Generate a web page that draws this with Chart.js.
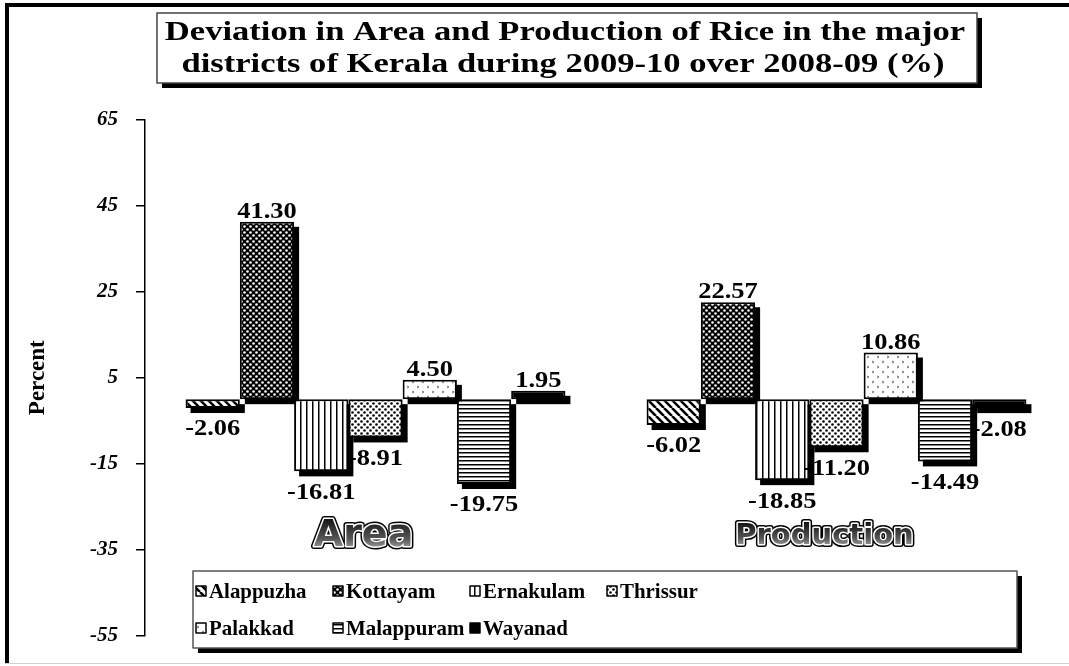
<!DOCTYPE html>
<html>
<head>
<meta charset="utf-8">
<script src="https://cdn.jsdelivr.net/npm/chart.js@4"></script>
<style>
  body { margin: 0; background: #fff; }
  #wrap { width: 1069px; height: 666px; position: relative; }
</style>
</head>
<body>
<div id="wrap"><canvas id="riceChart"></canvas></div>
<script>
// data
const categories = ["Area", "Production"];
const districts = ["Alappuzha", "Kottayam", "Ernakulam", "Thrissur", "Palakkad", "Malappuram", "Wayanad"];
const areaValues = [-2.06, 41.30, -16.81, -8.91, 4.50, -19.75, 1.95];
const productionValues = [-6.02, 22.57, -18.85, -11.20, 10.86, -14.49, -2.08];
const yTicks = [-55, -35, -15, 5, 25, 45, 65];
const titleLines = [
    "Deviation in Area and Production of Rice in the major",
    "districts of Kerala during 2009-10 over 2008-09 (%)"
];

const serif = '"Liberation Serif", "Times New Roman", serif';

function makePattern(kind) {
    const c = document.createElement("canvas");
    const g = c.getContext("2d");
    let s = 6;
    if (kind === "diag") s = 8;
    if (kind === "horiz") s = 4;
    if (kind === "sparse") s = 10;
    c.width = s; c.height = s;
    g.fillStyle = "#fff";
    g.fillRect(0, 0, s, s);
    g.fillStyle = "#000";
    g.strokeStyle = "#000";
    if (kind === "diag") {
        g.lineWidth = 2.6;
        g.beginPath();
        for (let k = -s; k <= s; k += s) {
            g.moveTo(k, 0);
            g.lineTo(k + s, s);
        }
        g.stroke();
    } else if (kind === "dark") {
        g.fillRect(0, 0, s, s);
        g.fillStyle = "#fff";
        [[1.5, 1.5], [4.5, 4.5]].forEach(p => {
            g.beginPath(); g.arc(p[0], p[1], 1.3, 0, Math.PI * 2); g.fill();
        });
    } else if (kind === "vert") {
        g.fillRect(0, 0, 1.5, s);
    } else if (kind === "dots") {
        [[1.5, 1.5], [4.5, 4.5]].forEach(p => {
            g.beginPath(); g.arc(p[0], p[1], 1.3, 0, Math.PI * 2); g.fill();
        });
    } else if (kind === "sparse") {
        g.strokeStyle = "#555";
        g.lineWidth = 0.8;
        g.beginPath();
        g.moveTo(2, 1); g.lineTo(4, 2); g.lineTo(2, 3);
        g.moveTo(7, 6); g.lineTo(9, 7); g.lineTo(7, 8);
        g.stroke();
    } else if (kind === "horiz") {
        g.fillRect(0, 0, s, 1.5);
    } else {
        g.fillRect(0, 0, s, s);
    }
    return g.createPattern(c, "repeat");
}

const patternKinds = ["diag", "dark", "vert", "dots", "sparse", "horiz", "solid"];
const fills = patternKinds.map(makePattern);

// text drawn wider than the font, like the original export
function wideText(ctx, text, x, y, sx) {
    ctx.save();
    ctx.translate(x, y);
    ctx.scale(sx, 1);
    ctx.fillText(text, 0, 0);
    ctx.restore();
}

// bar shadows, drawn under the bars
const barShadow = {
    id: "barShadow",
    beforeDatasetsDraw(chart) {
        const ctx = chart.ctx;
        ctx.save();
        ctx.fillStyle = "#000";
        chart.data.datasets.forEach((ds, i) => {
            chart.getDatasetMeta(i).data.forEach(bar => {
                const p = bar.getProps(["x", "y", "base", "width"], true);
                const top = Math.min(p.y, p.base);
                ctx.fillRect(p.x - p.width / 2 + 5, top + 5, p.width, Math.abs(p.y - p.base));
            });
        });
        ctx.restore();
    }
};

// value labels at the bar ends
const valueLabels = {
    id: "valueLabels",
    afterDatasetsDraw(chart) {
        const ctx = chart.ctx;
        ctx.save();
        ctx.font = "bold 23px " + serif;
        ctx.fillStyle = "#000";
        ctx.textAlign = "center";
        chart.data.datasets.forEach((ds, i) => {
            chart.getDatasetMeta(i).data.forEach((bar, j) => {
                const v = ds.data[j];
                const p = bar.getProps(["x", "y"], true);
                if (v >= 0) {
                    ctx.textBaseline = "alphabetic";
                    wideText(ctx, v.toFixed(2), p.x, p.y - 4, 1.15);
                } else {
                    ctx.textBaseline = "top";
                    wideText(ctx, v.toFixed(2), p.x, p.y + 10, 1.15);
                }
            });
        });
        ctx.restore();
    }
};

// frame, title box, category word-art and legend box
const decorations = {
    id: "decorations",
    beforeDraw(chart) {
        const ctx = chart.ctx;
        ctx.save();
        ctx.fillStyle = "#000";
        ctx.fillRect(5, 3, 1064, 4);
        ctx.fillRect(5, 3, 4, 661);
        ctx.fillStyle = "#d0d0d0";
        ctx.fillRect(5, 663, 1064, 1);
        ctx.restore();
    },
    afterDraw(chart) {
        const ctx = chart.ctx;
        const x = chart.scales.x;
        const y = chart.scales.y;
        ctx.save();

        // title box
        ctx.fillStyle = "#000";
        ctx.fillRect(162, 18, 820, 70);
        ctx.fillStyle = "#fff";
        ctx.fillRect(157, 13, 820, 70);
        ctx.strokeStyle = "#444";
        ctx.lineWidth = 1.5;
        ctx.strokeRect(157, 13, 820, 70);
        ctx.fillStyle = "#000";
        ctx.font = "bold 27px " + serif;
        ctx.textAlign = "center";
        ctx.textBaseline = "alphabetic";
        wideText(ctx, titleLines[0], 565, 40, 1.28);
        wideText(ctx, titleLines[1], 563, 72, 1.28);

        // category labels as outlined word-art
        const sizes = [38, 29];
        categories.forEach((cat, i) => {
            const cx = x.getPixelForValue(i) - 12;
            const cy = y.getPixelForValue(-32);
            ctx.font = "bold " + sizes[i] + "px \"DejaVu Sans\", sans-serif";
            ctx.textAlign = "center";
            ctx.textBaseline = "middle";
            ctx.lineJoin = "round";
            ctx.strokeStyle = "#000";
            ctx.lineWidth = 6;
            ctx.strokeText(cat, cx, cy);
            ctx.strokeStyle = "#fff";
            ctx.lineWidth = 3;
            ctx.strokeText(cat, cx, cy);
            const grad = ctx.createLinearGradient(0, cy - sizes[i] / 2, 0, cy + sizes[i] / 2);
            grad.addColorStop(0, "#111");
            grad.addColorStop(0.55, "#555");
            grad.addColorStop(1, "#cfcfcf");
            ctx.fillStyle = grad;
            ctx.fillText(cat, cx, cy);
        });

        // legend box
        const lx = 193, ly = 571, lw = 824, lh = 77;
        ctx.fillStyle = "#000";
        ctx.fillRect(lx + 5, ly + 5, lw, lh);
        ctx.fillStyle = "#fff";
        ctx.fillRect(lx, ly, lw, lh);
        ctx.strokeStyle = "#555";
        ctx.lineWidth = 1.5;
        ctx.strokeRect(lx, ly, lw, lh);

        ctx.font = "bold 22px " + serif;
        ctx.textAlign = "left";
        ctx.textBaseline = "middle";
        chart.data.datasets.forEach((ds, i) => {
            const col = i % 4, row = Math.floor(i / 4);
            const mx = lx + 3 + col * 137;
            const my = ly + 20 + row * 37;
            ctx.fillStyle = ds.backgroundColor;
            ctx.fillRect(mx, my - 5, 10, 10);
            ctx.strokeStyle = "#000";
            ctx.lineWidth = 1.5;
            ctx.strokeRect(mx, my - 5, 10, 10);
            ctx.fillStyle = "#000";
            wideText(ctx, ds.label, mx + 13, my + 1, 0.95);
        });
        ctx.restore();
    }
};

const ctx = document.getElementById("riceChart");

new Chart(ctx, {
    type: "bar",
    data: {
        labels: categories,
        datasets: districts.map((name, i) => ({
            label: name,
            data: [areaValues[i], productionValues[i]],
            backgroundColor: fills[i],
            borderColor: "#000",
            borderWidth: 2,
            borderSkipped: false
        }))
    },
    options: {
        responsive: true,
        maintainAspectRatio: false,
        animation: false,
        categoryPercentage: 0.824,
        barPercentage: 1.0,
        layout: {
            padding: { left: 0, right: 2, top: 120, bottom: 28 }
        },
        plugins: {
            legend: { display: false },
            tooltip: { enabled: false }
        },
        scales: {
            x: {
                display: false
            },
            y: {
                min: yTicks[0],
                max: yTicks[yTicks.length - 1],
                afterBuildTicks(scale) {
                    scale.ticks = yTicks.map(v => ({ value: v }));
                },
                afterFit(scale) {
                    scale.width = 145;
                },
                border: { display: true, color: "#000", width: 1.5 },
                grid: {
                    drawOnChartArea: false,
                    drawTicks: true,
                    tickLength: 9,
                    color: "#000",
                    lineWidth: 1.5
                },
                ticks: {
                    padding: 18,
                    color: "#000",
                    font: { family: serif, size: 21, style: "italic", weight: "bold" }
                },
                title: {
                    display: true,
                    text: "Percent",
                    color: "#000",
                    padding: { top: 24 },
                    font: { family: serif, size: 23, weight: "bold" }
                }
            }
        }
    },
    plugins: [barShadow, valueLabels, decorations]
});
</script>
</body>
</html>
